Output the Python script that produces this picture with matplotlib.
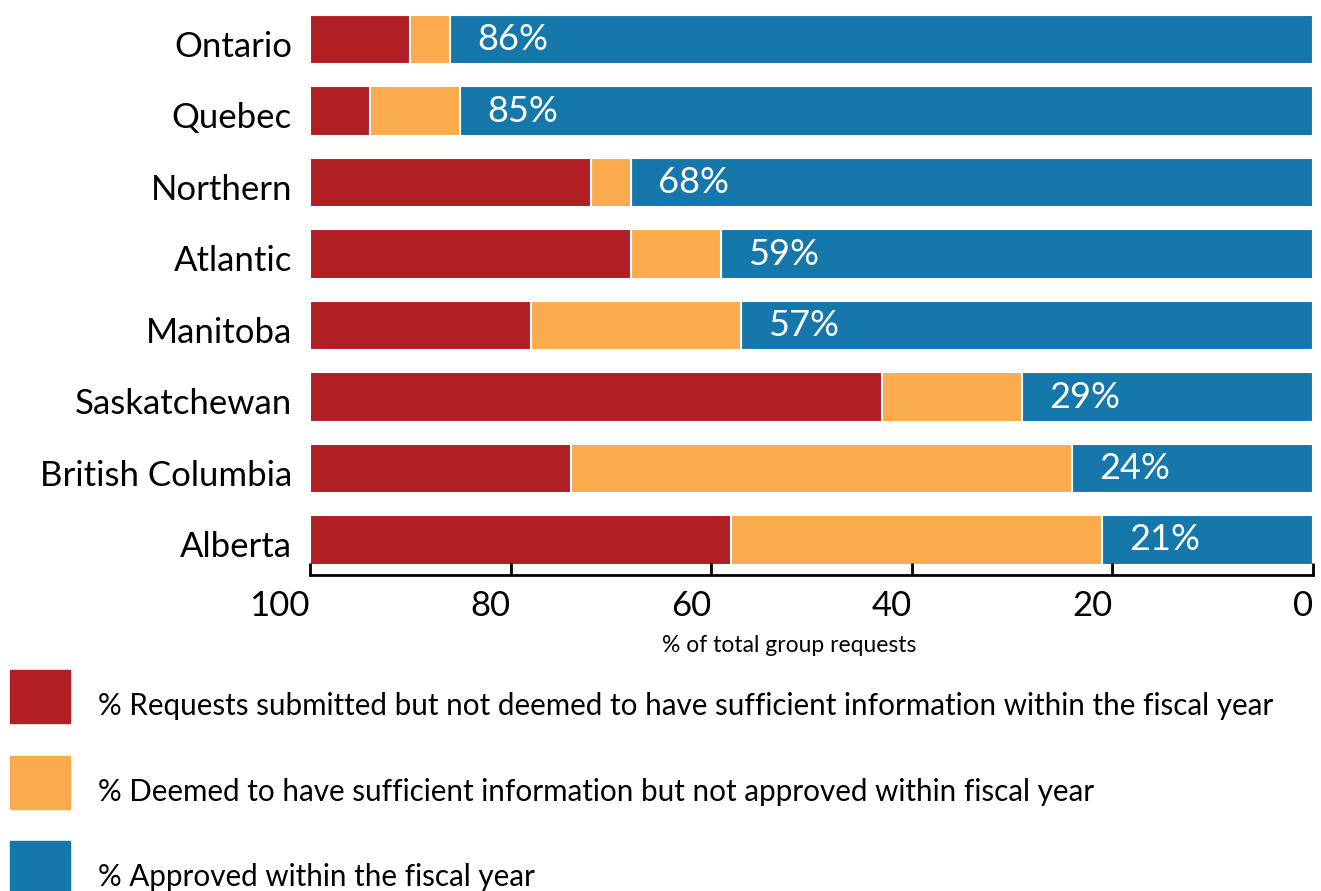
import numpy as np
import matplotlib.pyplot as plt
import matplotlib.transforms as mtransforms
from matplotlib.patches import Rectangle

plt.rcParams['font.family'] = ['Lato', 'DejaVu Sans']

# Regions, top to bottom
regions = ['Ontario', 'Quebec', 'Northern', 'Atlantic', 'Manitoba',
           'Saskatchewan', 'British Columbia', 'Alberta']

# Shares of total group requests (%)
approved = [86, 85, 68, 59, 57, 29, 24, 21]
sufficient_not_approved = [4, 9, 4, 9, 21, 14, 50, 37]
not_sufficient = [10, 6, 28, 32, 22, 57, 26, 42]

legend_labels = [
    '% Requests submitted but not deemed to have sufficient information within the fiscal year',
    '% Deemed to have sufficient information but not approved within fiscal year',
    '% Approved within the fiscal year',
]
xticks = [100, 80, 60, 40, 20, 0]

red = '#b11f24'
orange = '#f9ab4d'
blue = '#1577aa'

fig = plt.figure(figsize=(13.21, 8.91), dpi=100)
ax = fig.add_axes([310 / 1321, 1 - 575 / 891, 1003 / 1321, 560 / 891])

y = np.arange(len(regions))
h = 0.69
approved = np.array(approved)
sna = np.array(sufficient_not_approved)
ns = np.array(not_sufficient)

ax.barh(y, approved, height=h, color=blue, edgecolor='white', linewidth=1.5)
ax.barh(y, sna, left=approved, height=h, color=orange, edgecolor='white', linewidth=1.5)
ax.barh(y, ns, left=approved + sna, height=h, color=red, edgecolor='white', linewidth=1.5)

for yi, v in zip(y, approved):
    ax.text(v - 2.7, yi, f'{v}%', color='white', fontsize=26,
            ha='left', va='center')

ax.set_xlim(100, 0)
ax.set_ylim(len(regions) - 1 + 0.49, -0.345)
ax.set_yticks(y)
ax.set_yticklabels(regions, fontsize=25)
ax.tick_params(axis='y', length=0, pad=13)
shift = mtransforms.ScaledTranslation(0, -4 / 100, fig.dpi_scale_trans)
for lab in ax.get_yticklabels():
    lab.set_transform(lab.get_transform() + shift)

ax.set_xticks(xticks)
ax.set_xticklabels([str(t) for t in xticks], fontsize=25, ha='right')
ax.tick_params(axis='x', direction='in', length=9, width=2, pad=11)

for s in ['top', 'right', 'left']:
    ax.spines[s].set_visible(False)
ax.spines['bottom'].set_linewidth(2)

fig.text(789 / 1321, 1 - 646 / 891, '% of total group requests',
         fontsize=16.5, ha='center', va='center')

# legend swatches and labels
for i, (lab, c) in enumerate(zip(legend_labels, [red, orange, blue])):
    top = 670 + i * 85.5
    fig.add_artist(Rectangle((10 / 1321, 1 - (top + 53) / 891), 60 / 1321, 53 / 891,
                             transform=fig.transFigure, color=c))
    fig.text(98 / 1321, 1 - (top + 36) / 891, lab, fontsize=21.3,
             ha='left', va='center')

fig.savefig('out.png', dpi=100)
